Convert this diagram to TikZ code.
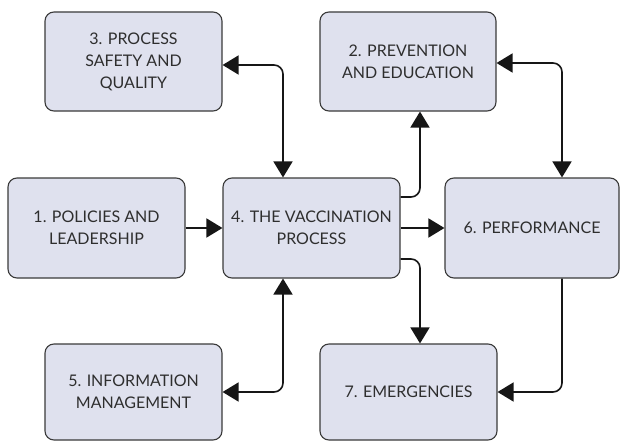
\documentclass[tikz,border=0pt]{standalone}
\usepackage{fontspec}
\setmainfont{Lato}
\usetikzlibrary{arrows.meta,calc}
\definecolor{boxfill}{HTML}{DFE1EE}
\definecolor{boxline}{HTML}{3A3A3A}
\definecolor{txt}{HTML}{2E2E2E}
\definecolor{conn}{HTML}{161616}
\begin{document}
\begin{tikzpicture}[x=1pt,y=-1pt,
  box/.style={draw=boxline,fill=boxfill,line width=1.1pt,rounded corners=9pt,
    minimum width=177pt,minimum height=99pt,align=center,text=txt,
    font=\fontsize{16}{22}\selectfont,inner sep=0pt},
  conn/.style={draw=conn,line width=1.6pt,rounded corners=9pt},
  one/.style={conn,-{Triangle[length=16pt,width=19pt]}},
  two/.style={conn,{Triangle[length=16pt,width=19pt]}-{Triangle[length=16pt,width=19pt]}}]
\useasboundingbox (0,0) rectangle (620,441);
\node[box] (b3) at (133.5,61.5) {3. PROCESS\\SAFETY AND\\QUALITY};
\node[box,minimum width=176pt] (b2) at (408,61.5) {2. PREVENTION\\AND EDUCATION};
\node[box,minimum height=100pt] (b1) at (96.5,228) {1. POLICIES AND\\LEADERSHIP};
\node[box,minimum height=100pt] (b4) at (311.5,228) {4. THE VACCINATION\\PROCESS};
\node[box,minimum width=174pt,minimum height=100pt] (b6) at (532,228) {6. PERFORMANCE};
\node[box,minimum height=96pt] (b5) at (133.5,392) {5. INFORMATION\\MANAGEMENT};
\node[box,minimum height=96pt] (b7) at (408.5,392) {7. EMERGENCIES};
% connectors
\draw[two] ([yshift=-3.5pt]b3.east) -| ([xshift=-28.5pt]b4.north);
\draw[two] ([yshift=-1.5pt]b2.east) -| ([xshift=30pt]b6.north);
\draw[one] ([yshift=31pt]b4.east) -| ([xshift=12pt]b2.south);
\draw[one] (b1.east) -- (b4.west);
\draw[one] (b4.east) -- (b6.west);
\draw[one] ([yshift=-31pt]b4.east) -| ([xshift=11.5pt]b7.north);
\draw[two] (b5.east) -| ([xshift=-28.5pt]b4.south);
\draw[one] ([xshift=30pt]b6.south) |- (b7.east);
\end{tikzpicture}
\end{document}
